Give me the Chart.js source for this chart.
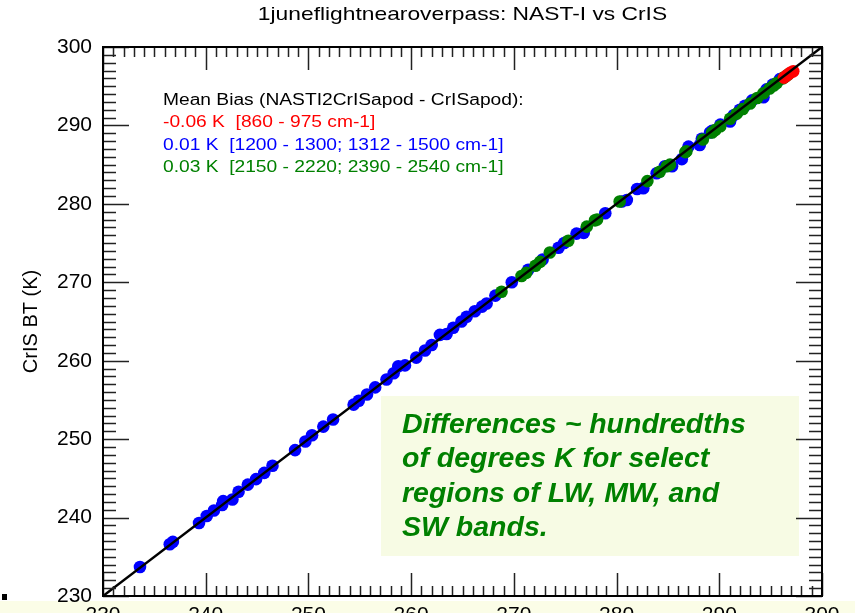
<!DOCTYPE html>
<html>
<head>
<meta charset="utf-8">
<script src="https://cdn.jsdelivr.net/npm/chart.js@4.4.1/dist/chart.umd.min.js"></script>
<style>
  html, body { margin: 0; padding: 0; background: #fff; overflow: hidden; }
  #wrap { position: relative; width: 855px; height: 640px; }
</style>
</head>
<body>
<div id="wrap"><canvas id="chart"></canvas></div>
<script>
// NAST-I BT (x) vs CrIS BT (y)
const blueX = [233.6, 236.5, 236.8, 239.35, 240.1, 240.8, 241.6, 241.7, 242.6, 243.2, 244.1, 244.9, 245.7, 246.5,
  248.7, 249.7, 250.35, 251.45, 252.4, 254.4, 254.9, 255.7, 256.5, 257.6, 258.3, 258.75, 259.4, 260.5, 261.35,
  262.0, 262.8, 263.45, 264.1, 264.9, 265.4, 266.2, 266.9, 267.35, 268.2, 269.8, 271.4, 272.8, 274.35, 274.9,
  276.1, 276.8, 278.9, 280.5, 281.0, 282.0, 282.6, 283.9, 284.7, 285.4, 286.35, 287.0, 288.1, 288.3, 289.1,
  289.3, 290.1, 291.05, 291.4, 292.0, 292.5, 293.2, 294.3, 294.6, 295.2, 295.9];
const blueY = [233.7, 236.6, 236.9, 239.3, 240.2, 240.9, 241.6, 242.1, 242.3, 243.3, 244.2, 244.9, 245.7, 246.6,
  248.6, 249.7, 250.5, 251.6, 252.5, 254.4, 254.9, 255.7, 256.6, 257.6, 258.4, 259.3, 259.4, 260.4, 261.3,
  262.0, 263.3, 263.4, 264.2, 265.0, 265.6, 266.3, 266.9, 267.3, 268.3, 270.0, 271.6, 272.9, 274.4, 275.0,
  276.2, 276.3, 278.8, 280.3, 280.5, 281.9, 282.0, 283.9, 284.8, 284.8, 285.7, 287.3, 287.5, 288.3, 289.1,
  289.3, 290.1, 290.5, 291.3, 292.0, 292.5, 293.2, 293.6, 294.6, 295.2, 295.9];

const greenX = [268.8, 270.75, 271.2, 272.1, 272.55, 273.5, 275.3, 277.1, 277.9, 278.1, 280.3, 283.0, 284.2,
  284.9, 285.2, 286.7, 286.8, 288.4, 289.3, 289.6, 290.1, 291.05, 291.7, 292.3, 293.0, 293.7, 294.3, 294.9,
  295.3, 295.6, 296.2, 296.4, 296.7];
const greenY = [268.8, 270.8, 271.2, 272.1, 272.6, 273.8, 275.3, 277.1, 277.9, 278.0, 280.3, 282.9, 284.1,
  284.8, 285.0, 286.6, 286.7, 288.2, 289.1, 289.4, 289.9, 290.85, 291.5, 292.1, 292.8, 293.5, 294.1, 294.7,
  295.1, 295.4, 296.0, 296.2, 296.5];

const redX = [296.3, 296.6, 296.9, 297.2];
const redY = [296.1, 296.4, 296.7, 296.9];

// 1:1 reference line
const lineX = [230, 300];
const lineY = [230, 300];

const axisMin = 230;
const axisMax = 300;
const tickStep = 10;

const chartTitle = '1juneflightnearoverpass: NAST-I vs CrIS';
const yTitle = 'CrIS BT (K)';
const biasLines = [
  ['Mean Bias (NASTI2CrISapod - CrISapod):', '#000000'],
  ['-0.06 K  [860 - 975 cm-1]', '#ff0000'],
  ['0.01 K  [1200 - 1300; 1312 - 1500 cm-1]', '#0000ff'],
  ['0.03 K  [2150 - 2220; 2390 - 2540 cm-1]', '#008000']
];
const noteLines = [
  'Differences ~ hundredths',
  'of degrees K for select',
  'regions of LW, MW, and',
  'SW bands.'
];

const toPoints = (xs, ys) => xs.map((x, i) => ({ x: x, y: ys[i] }));
const FONT = '"Liberation Sans", Arial, Helvetica, sans-serif';

const decorations = {
  id: 'decorations',
  beforeDraw(chart) {
    const ctx = chart.ctx;
    ctx.save();
    // pale strip along the bottom of the slide
    ctx.fillStyle = '#fbfde7';
    ctx.fillRect(0, 601, chart.width, chart.height - 601);
    ctx.restore();
  },
  afterDatasetsDraw(chart) {
    const ctx = chart.ctx;
    ctx.save();
    ctx.fillStyle = '#f7fbe4';
    ctx.fillRect(381, 396, 418, 160);
    ctx.fillStyle = '#008000';
    ctx.font = 'italic bold 28.5px ' + FONT;
    ctx.textBaseline = 'middle';
    noteLines.forEach((t, i) => ctx.fillText(t, 402, 425 + i * 34.5));
    ctx.restore();
  },
  afterDraw(chart) {
    const ctx = chart.ctx;
    const a = chart.chartArea;
    const xs = chart.scales.x;
    const ys = chart.scales.y;
    ctx.save();

    // inward ticks on all four sides
    ctx.strokeStyle = '#222';
    ctx.lineWidth = 1.5;
    ctx.beginPath();
    for (let v = axisMin; v <= axisMax; v++) {
      const major = v % tickStep === 0;
      const px = Math.round(xs.getPixelForValue(v)) + 0.5;
      const lx = major ? 23 : 10;
      ctx.moveTo(px, a.bottom); ctx.lineTo(px, a.bottom - lx);
      ctx.moveTo(px, a.top); ctx.lineTo(px, a.top + lx);
      const py = Math.round(ys.getPixelForValue(v)) + 0.5;
      const ly = major ? 26 : 13;
      ctx.moveTo(a.left, py); ctx.lineTo(a.left + ly, py);
      ctx.moveTo(a.right, py); ctx.lineTo(a.right - ly, py);
    }
    ctx.stroke();

    // frame
    ctx.strokeStyle = '#000';
    ctx.lineWidth = 2;
    ctx.strokeRect(a.left, a.top, a.right - a.left, a.bottom - a.top);

    // title (the plot image is slightly stretched sideways)
    ctx.fillStyle = '#000';
    ctx.textBaseline = 'middle';
    ctx.save();
    ctx.translate((a.left + a.right) / 2, 15);
    ctx.scale(1.2, 1);
    ctx.font = '19px ' + FONT;
    ctx.textAlign = 'center';
    ctx.fillText(chartTitle, 0, 0);
    ctx.restore();

    // mean bias legend
    ctx.font = '16px ' + FONT;
    ctx.textAlign = 'left';
    biasLines.forEach((b, i) => {
      ctx.save();
      ctx.translate(163, 100.5 + i * 22.3);
      ctx.scale(1.2, 1);
      ctx.fillStyle = b[1];
      ctx.fillText(b[0], 0, 0);
      ctx.restore();
    });

    // small mark at the far left
    ctx.fillStyle = '#000';
    ctx.fillRect(2, 594, 5, 6);
    ctx.restore();
  }
};

const ctx = document.getElementById('chart');
new Chart(ctx.getContext('2d'), {
  type: 'scatter',
  data: {
    datasets: [
      {
        label: '1:1',
        data: toPoints(lineX, lineY),
        showLine: true,
        borderColor: '#000000',
        borderWidth: 2.5,
        pointRadius: 0
      },
      {
        label: '860 - 975 cm-1',
        data: toPoints(redX, redY),
        backgroundColor: '#ff0000',
        pointRadius: 6.3,
        borderWidth: 0
      },
      {
        label: '2150 - 2220; 2390 - 2540 cm-1',
        data: toPoints(greenX, greenY),
        backgroundColor: '#008000',
        pointRadius: 6.3,
        borderWidth: 0
      },
      {
        label: '1200 - 1300; 1312 - 1500 cm-1',
        data: toPoints(blueX, blueY),
        backgroundColor: '#0000ff',
        pointRadius: 6.3,
        borderWidth: 0
      }
    ]
  },
  options: {
    responsive: true,
    maintainAspectRatio: false,
    animation: false,
    devicePixelRatio: 1,
    layout: { padding: { top: 47, right: 33, left: 0, bottom: 0 } },
    plugins: {
      legend: { display: false },
      title: { display: false },
      tooltip: { enabled: false }
    },
    scales: {
      x: {
        type: 'linear',
        min: axisMin,
        max: axisMax,
        grid: { display: false, drawTicks: false },
        border: { display: false },
        ticks: { stepSize: tickStep, padding: 7, color: '#000', font: { family: FONT, size: 21 } },
        afterFit(scale) { scale.height = 44; }
      },
      y: {
        type: 'linear',
        min: axisMin,
        max: axisMax,
        grid: { display: false, drawTicks: false },
        border: { display: false },
        ticks: { stepSize: tickStep, padding: 11, color: '#000', font: { family: FONT, size: 21 } },
        title: {
          display: true,
          text: yTitle,
          color: '#000',
          font: { family: FONT, size: 20 },
          padding: { top: 19, bottom: 0 }
        },
        afterFit(scale) { scale.width = 103; }
      }
    }
  },
  plugins: [decorations]
});
</script>
</body>
</html>
